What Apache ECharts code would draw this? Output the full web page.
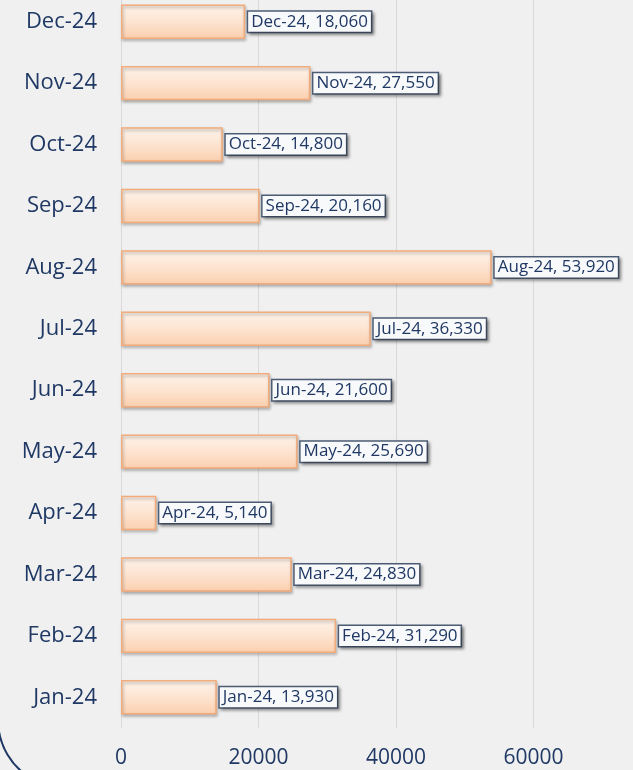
<!DOCTYPE html>
<html>
<head>
<meta charset="utf-8">
<script src="https://cdn.jsdelivr.net/npm/echarts@6/dist/echarts.min.js"></script>
<style>
    html, body { margin: 0; padding: 0; background: #f0f0f0; }
    #chart { width: 633px; height: 770px; }
</style>
</head>
<body>
<div id="chart"></div>
<script>
var months = ['Jan-24', 'Feb-24', 'Mar-24', 'Apr-24', 'May-24', 'Jun-24',
    'Jul-24', 'Aug-24', 'Sep-24', 'Oct-24', 'Nov-24', 'Dec-24'];
var amounts = [13930, 31290, 24830, 5140, 25690, 21600,
    36330, 53920, 20160, 14800, 27550, 18060];
var xTicks = [0, 20000, 40000, 60000, 80000];

var navy = '#1f3864';

var chart = echarts.init(document.getElementById('chart'));

chart.setOption({
    backgroundColor: '#f0f0f0',
    animation: false,
    grid: {
        left: 121,
        width: 550,
        top: -9,
        bottom: 42,
        outerBoundsMode: 'none',
        containLabel: false
    },
    xAxis: {
        type: 'value',
        min: xTicks[0],
        max: xTicks[xTicks.length - 1],
        interval: xTicks[1] - xTicks[0],
        axisLine: { show: false },
        axisTick: { show: false },
        axisLabel: {
            color: navy,
            fontSize: 21,
            fontFamily: 'Open Sans',
            margin: 20,
            formatter: function (v) { return String(v); }
        },
        splitLine: { lineStyle: { color: '#d9d9d9', width: 1 } }
    },
    yAxis: {
        type: 'category',
        data: months,
        axisLine: { show: false },
        axisTick: { show: false },
        axisLabel: {
            color: navy,
            fontSize: 22,
            fontFamily: 'Open Sans',
            margin: 24
        }
    },
    series: [{
        type: 'bar',
        data: amounts,
        barCategoryGap: '44%',
        itemStyle: {
            color: new echarts.graphic.LinearGradient(0, 0, 0, 1, [
                { offset: 0, color: '#fdf3eb' },
                { offset: 0.5, color: '#fde4d1' },
                { offset: 1, color: '#fbcfae' }
            ]),
            borderColor: '#f2ab7a',
            borderWidth: 1.5,
            shadowColor: 'rgba(0,0,0,0.28)',
            shadowBlur: 3,
            shadowOffsetX: 1,
            shadowOffsetY: 2
        },
        label: {
            show: true,
            position: 'right',
            distance: 3,
            formatter: function (p) {
                return p.name + ', ' + p.value.toLocaleString('en-US');
            },
            color: navy,
            fontSize: 17,
            fontFamily: 'Open Sans',
            backgroundColor: '#f8f9fb',
            borderColor: '#4d5d75',
            borderWidth: 1.5,
            padding: [2, 3, 1, 3],
            shadowColor: 'rgba(0,0,0,0.35)',
            shadowBlur: 3,
            shadowOffsetX: 2,
            shadowOffsetY: 2
        }
    }],
    graphic: [{
        type: 'arc',
        shape: {
            cx: 66,
            cy: 720,
            r: 68,
            startAngle: 2.2,
            endAngle: 3.02,
            clockwise: true
        },
        style: {
            stroke: navy,
            lineWidth: 2,
            fill: null
        },
        silent: true
    }]
});
</script>
</body>
</html>
